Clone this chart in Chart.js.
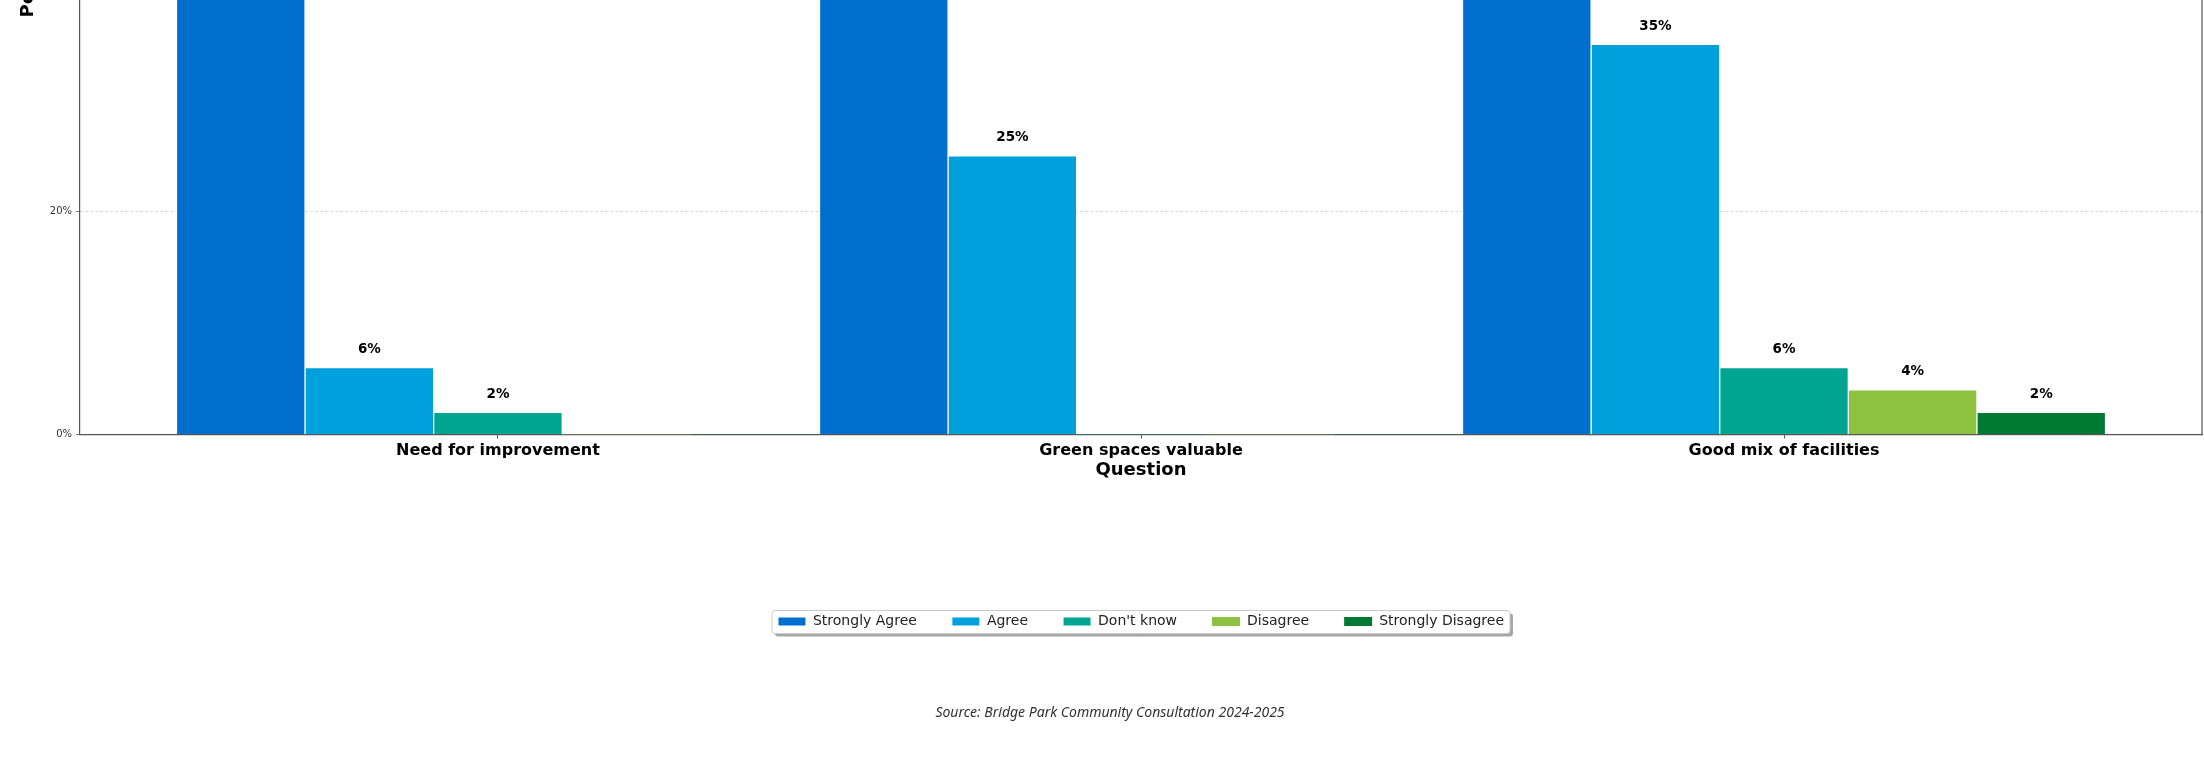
<!DOCTYPE html>
<html>
<head>
<meta charset="utf-8">
<script src="https://cdn.jsdelivr.net/npm/chart.js@4"></script>
<style>
  html, body { margin: 0; padding: 0; background: #fff; overflow: hidden; }
  #wrap { position: relative; width: 2204px; height: 765px; overflow: hidden; }
  #myChart { position: absolute; left: 0; top: -700px; }
</style>
</head>
<body>
<div id="wrap"><canvas id="myChart" width="2204" height="1465"></canvas></div>
<script>
// categories and series (percent of respondents)
var questions = ['Need for improvement', 'Green spaces valuable', 'Good mix of facilities'];
var stronglyAgree = [92, 75, 53];   // tops are cut off in the picture, estimated
var agree = [6, 25, 35];
var dontKnow = [2, 0, 6];
var disagree = [0, 0, 4];
var stronglyDisagree = [0, 0, 2];
var yTicks = [0, 20, 40, 60, 80, 100];

var seriesNames = ['Strongly Agree', 'Agree', "Don't know", 'Disagree', 'Strongly Disagree'];
var seriesValues = [stronglyAgree, agree, dontKnow, disagree, stronglyDisagree];
var seriesColors = ['#006fcd', '#00a0dc', '#00a591', '#8cc23f', '#007a33'];

function toPoints(values) {
  return values.map(function (v, i) { return { x: i, y: v }; });
}

// value labels above each bar
var barLabels = {
  id: 'barLabels',
  afterDatasetsDraw: function (chart) {
    var ctx = chart.ctx;
    ctx.save();
    ctx.font = 'bold 13.5px "DejaVu Sans"';
    ctx.fillStyle = '#000';
    ctx.textAlign = 'center';
    ctx.textBaseline = 'middle';
    chart.data.datasets.forEach(function (ds, i) {
      chart.getDatasetMeta(i).data.forEach(function (bar, j) {
        var v = ds.data[j].y;
        if (v > 0) ctx.fillText(v + '%', bar.x, bar.y - 18);
      });
    });
    ctx.restore();
  }
};

// right/top spines of the plot frame and the legend box with its shadow
var frame = {
  id: 'frame',
  beforeDraw: function (chart) {
    var ctx = chart.ctx;
    var boxes = chart.legend.legendHitBoxes;
    if (!boxes || !boxes.length) return;
    var first = boxes[0], last = boxes[boxes.length - 1];
    var x = first.left - 6, y = first.top - 4;
    var w = last.left + last.width + 6 - x, h = first.height + 9;
    ctx.save();
    ctx.fillStyle = 'rgba(0,0,0,0.35)';
    ctx.beginPath();
    ctx.roundRect(x + 3, y + 3, w, h, 3);
    ctx.fill();
    ctx.fillStyle = '#fff';
    ctx.strokeStyle = '#cccccc';
    ctx.lineWidth = 1;
    ctx.beginPath();
    ctx.roundRect(x, y, w, h, 3);
    ctx.fill();
    ctx.stroke();
    ctx.restore();
  },
  afterDraw: function (chart) {
    var a = chart.chartArea, ctx = chart.ctx;
    ctx.save();
    ctx.strokeStyle = '#555';
    ctx.lineWidth = 1.2;
    ctx.beginPath();
    ctx.moveTo(a.left, a.top);
    ctx.lineTo(a.right, a.top);
    ctx.lineTo(a.right, a.bottom);
    ctx.stroke();
    ctx.restore();
  }
};

var ctx = document.getElementById('myChart').getContext('2d');
var myChart = new Chart(ctx, {
  type: 'bar',
  data: {
    datasets: seriesNames.map(function (name, i) {
      return {
        label: name,
        data: toPoints(seriesValues[i]),
        backgroundColor: seriesColors[i],
        borderColor: '#ffffff',
        borderWidth: function (c) { return c.raw && c.raw.y > 0 ? 1 : 0; },
        borderSkipped: 'start'
      };
    })
  },
  options: {
    responsive: false,
    animation: false,
    categoryPercentage: 1,
    barPercentage: 1,
    layout: { padding: { top: 20, left: 18, right: 2, bottom: 0 } },
    plugins: {
      tooltip: { enabled: false },
      legend: {
        display: true,
        position: 'bottom',
        fullSize: false,
        labels: {
          color: '#222',
          boxWidth: 28,
          boxHeight: 9,
          padding: 35,
          font: { family: '"DejaVu Sans"', size: 14 }
        }
      },
      title: {
        display: true,
        position: 'bottom',
        text: 'Source: Bridge Park Community Consultation 2024-2025',
        color: '#333',
        font: { family: '"Noto Sans", "Open Sans"', size: 14, style: 'italic', weight: 'normal' },
        padding: { top: 66.1, bottom: 43.6 }
      }
    },
    scales: {
      x: {
        type: 'linear',
        min: -0.65,
        max: 2.65,
        offset: false,
        afterBuildTicks: function (scale) {
          scale.ticks = questions.map(function (q, i) { return { value: i }; });
        },
        afterFit: function (scale) { scale.height = 145; },
        ticks: {
          padding: 3,
          color: '#000',
          font: { family: '"DejaVu Sans"', size: 16, weight: 'bold' },
          callback: function (v) { return questions[v]; }
        },
        grid: {
          offset: false,
          drawOnChartArea: false,
          drawTicks: true,
          tickLength: 4,
          tickColor: '#555'
        },
        border: { color: '#555', width: 1.2 },
        title: {
          display: true,
          text: 'Question',
          color: '#000',
          font: { family: '"DejaVu Sans"', size: 18, weight: 'bold' },
          padding: { top: 4, bottom: 98.7 }
        }
      },
      y: {
        min: 0,
        max: 100,
        afterBuildTicks: function (scale) {
          scale.ticks = yTicks.map(function (v) { return { value: v }; });
        },
        afterFit: function (scale) { scale.width = 62; },
        ticks: {
          padding: 4,
          color: '#333',
          font: { family: '"DejaVu Sans"', size: 10 },
          callback: function (v) { return v + '%'; }
        },
        grid: {
          color: function (c) { return c.tick && c.tick.value === 0 ? 'rgba(0,0,0,0)' : '#cccccc'; },
          lineWidth: 0.8,
          drawTicks: true,
          tickLength: 4,
          tickColor: '#555',
          tickBorderDash: []
        },
        border: { color: '#555', width: 1.2, dash: [3, 2] },
        title: {
          display: true,
          text: 'Percentage of Respondents',
          color: '#000',
          font: { family: '"DejaVu Sans"', size: 18, weight: 'bold' },
          padding: { top: 0, bottom: 0 }
        }
      }
    }
  },
  plugins: [barLabels, frame]
});
</script>
</body>
</html>
